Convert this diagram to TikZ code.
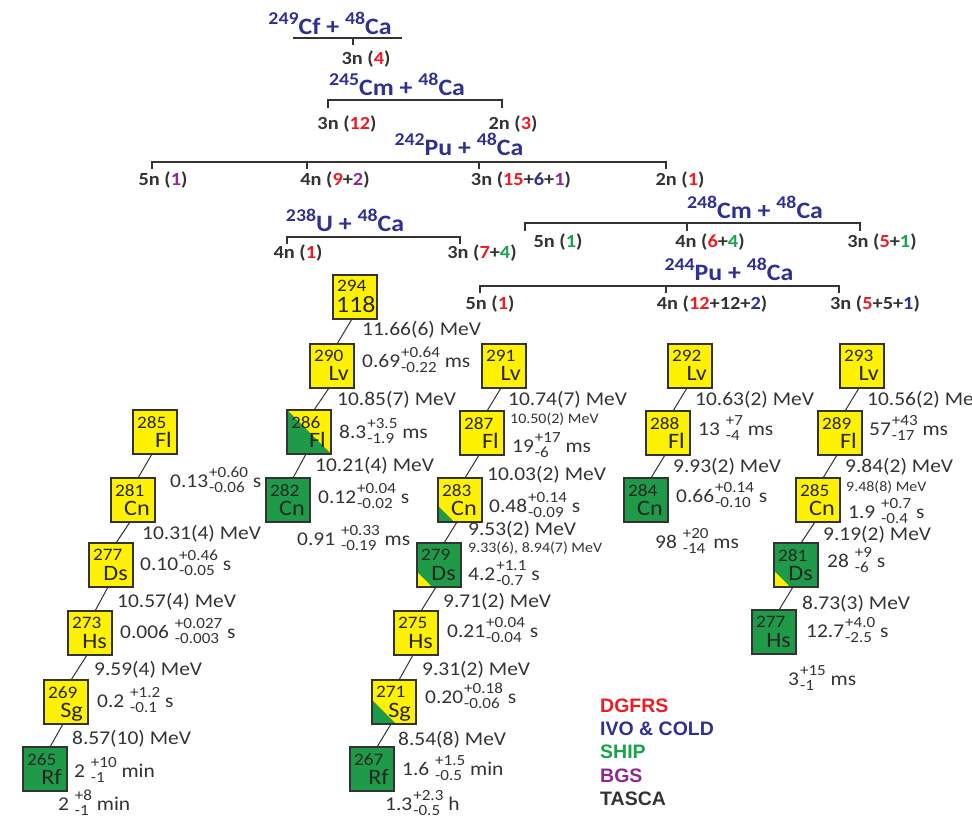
\documentclass[tikz,border=0pt]{standalone}
\usepackage{fontspec}
\setmainfont{Carlito}[FakeStretch=1.1]
\newfontfamily\legfont{Liberation Sans}
\usetikzlibrary{calc}
\definecolor{txt}{HTML}{333333}
\definecolor{hdrc}{HTML}{2E3192}
\definecolor{cred}{HTML}{ED1C24}
\definecolor{cblue}{HTML}{2E3192}
\definecolor{cgreen}{HTML}{17A34A}
\definecolor{cpurple}{HTML}{92278F}
\definecolor{byel}{HTML}{FFF200}
\definecolor{bgrn}{HTML}{1F9A48}
\definecolor{lin}{HTML}{333333}
\newcommand\scrf{\fontsize{15.5}{16}\selectfont}
\newdimen\uncw
\newcommand\hl[4]{#1\kern1pt\setbox0=\hbox{\scrf #2}\setbox2=\hbox{\scrf #3}\uncw=\wd0 \ifdim\wd2>\uncw \uncw=\wd2 \fi\hbox to\uncw{\rlap{\raise9.5pt\box0}\lower5pt\box2\hfil}\ #4}
\newcommand\sups[1]{\raisebox{0.45em}{\fontsize{18}{18}\selectfont #1}}
\newcommand\cR[1]{\textcolor{cred}{#1}}
\newcommand\cB[1]{\textcolor{cblue}{#1}}
\newcommand\cG[1]{\textcolor{cgreen}{#1}}
\newcommand\cP[1]{\textcolor{cpurple}{#1}}
\tikzset{
  box/.style={draw=lin, line width=1.3pt, minimum size=44pt, inner sep=0pt, outer sep=0pt, fill=byel},
  boxline/.style={draw=lin, line width=1.3pt},
  mass/.style={font=\fontsize{17.5}{19}\selectfont, text=black!85, anchor=north west, inner sep=0pt},
  elem/.style={font=\fontsize{22}{24}\selectfont, text=black!85, anchor=base east, inner sep=0pt},
  elemL/.style={font=\fontsize{23.5}{26}\selectfont, text=black!85, anchor=base west, inner sep=0pt},
  conn/.style={draw=lin, line width=1pt},
  en/.style={font=\fontsize{19.5}{22}\selectfont, text=txt, anchor=base west, inner sep=0pt},
  ens/.style={font=\fontsize{14.5}{16}\selectfont, text=txt, anchor=base west, inner sep=0pt},
  hdr/.style={font=\fontsize{23.5}{26}\selectfont\bfseries, text=hdrc, anchor=base, inner sep=0pt},
  rx/.style={font=\fontsize{18.5}{20}\selectfont\bfseries, text=txt, anchor=base, inner sep=0pt},
  bar/.style={draw=lin, line width=1.4pt},
  leg/.style={font=\fontsize{19.5}{22}\selectfont\legfont\bfseries, anchor=base west, inner sep=0pt}
}
\newcommand\nucl[6][byel]{%
  \node[box, fill=#1] (#2) at (#3) {};
  #6
  \node[mass] (#2m) at ([xshift=4pt,yshift=-6pt]#2.north west) {#4};
  \node[elem] (#2e) at ([xshift=-5pt,yshift=7pt]#2.south east) {#5};
}
\begin{document}
\begin{tikzpicture}[x=1pt,y=-1pt]
\useasboundingbox (0,0) rectangle (972,818);
\clip (0,0) rectangle (972,818);

% ---------- reactions ----------
\node[hdr] (h1) at (330,35) {\sups{249}Cf + \sups{48}Ca};
\coordinate (b1l) at (293,38); \coordinate (b1r) at (402,38);
\coordinate (b1t) at (353,38); \coordinate (b1td) at (353,45);
\draw[bar] (b1l) -- (b1r); \draw[bar] (b1t) -- (b1td);
\node[rx] (r11) at (366,65) {3n (\cR{4})};

\node[hdr] (h2) at (397,96) {\sups{245}Cm + \sups{48}Ca};
\coordinate (b2l) at (328,100); \coordinate (b2r) at (502,100);
\coordinate (b2ld) at (328,108); \coordinate (b2rd) at (502,108);
\draw[bar] (b2ld) -- (b2l) -- (b2r) -- (b2rd);
\node[rx] (r21) at (347,130) {3n (\cR{12})};
\node[rx] (r22) at (513,130) {2n (\cR{3})};

\node[hdr] (h3) at (459,156) {\sups{242}Pu + \sups{48}Ca};
\coordinate (b3l) at (152,162); \coordinate (b3r) at (666,162);
\coordinate (b3ld) at (152,169); \coordinate (b3rd) at (666,169);
\coordinate (b3a) at (307,162); \coordinate (b3ad) at (307,169);
\coordinate (b3b) at (479,162); \coordinate (b3bd) at (479,169);
\draw[bar] (b3ld) -- (b3l) -- (b3r) -- (b3rd);
\draw[bar] (b3a) -- (b3ad); \draw[bar] (b3b) -- (b3bd);
\node[rx] (r31) at (163,186) {5n (\cP{1})};
\node[rx] (r32) at (335,186) {4n (\cR{9}+\cP{2})};
\node[rx] (r33) at (521,186) {3n (\cR{15}+\cB{6}+\cP{1})};
\node[rx] (r34) at (680,186) {2n (\cR{1})};

\node[hdr] (h4) at (345,232) {\sups{238}U + \sups{48}Ca};
\coordinate (b4l) at (287,237); \coordinate (b4r) at (460,237);
\coordinate (b4ld) at (287,244); \coordinate (b4rd) at (460,244);
\draw[bar] (b4ld) -- (b4l) -- (b4r) -- (b4rd);
\node[rx] (r41) at (298,259) {4n (\cR{1})};
\node[rx] (r42) at (482,259) {3n (\cR{7}+\cG{4})};

\node[hdr] (h5) at (755,219) {\sups{248}Cm + \sups{48}Ca};
\coordinate (b5l) at (525,223); \coordinate (b5r) at (860,223);
\coordinate (b5ld) at (525,231); \coordinate (b5rd) at (860,231);
\coordinate (b5m) at (687,223); \coordinate (b5md) at (687,231);
\draw[bar] (b5ld) -- (b5l) -- (b5r) -- (b5rd);
\draw[bar] (b5m) -- (b5md);
\node[rx] (r51) at (558,248) {5n (\cG{1})};
\node[rx] (r52) at (710,248) {4n (\cR{6}+\cG{4})};
\node[rx] (r53) at (882,248) {3n (\cR{5}+\cG{1})};

\node[hdr] (h6) at (729,281) {\sups{244}Pu + \sups{48}Ca};
\coordinate (b6l) at (480,286); \coordinate (b6r) at (839,286);
\coordinate (b6ld) at (480,293); \coordinate (b6rd) at (839,293);
\coordinate (b6m) at (666,286); \coordinate (b6md) at (666,293);
\draw[bar] (b6ld) -- (b6l) -- (b6r) -- (b6rd);
\draw[bar] (b6m) -- (b6md);
\node[rx] (r61) at (490,310) {5n (\cR{1})};
\node[rx] (r62) at (712,310) {4n (\cR{12}+12+\cB{2})};
\node[rx] (r63) at (875,310) {3n (\cR{5}+5+\cB{1})};

% ---------- chain A ----------
\nucl{A1}{155,432}{285}{Fl}{}
\nucl{A2}{133,500}{281}{Cn}{}
\nucl{A3}{111,565}{277}{Ds}{}
\nucl{A4}{90,633}{273}{Hs}{}
\nucl{A5}{66,702}{269}{Sg}{}
\nucl[bgrn]{A6}{45,769}{265}{Rf}{}
\foreach \a/\b in {A1/A2,A2/A3,A3/A4,A4/A5,A5/A6}
  \draw[conn] ([xshift=-3pt]\a.south) -- ([xshift=5pt]\b.north);

\node[en] (a0) at (170,487) {\hl{0.13}{+0.60}{-0.06}{s}};
\node[en] (a1) at (142,539) {10.31(4) MeV};
\node[en] (a2) at (140,570) {\hl{0.10}{+0.46}{-0.05}{s}};
\node[en] (a3) at (117,607) {10.57(4) MeV};
\node[en] (a4) at (120,638) {\hl{0.006\ }{+0.027}{-0.003}{s}};
\node[en] (a5) at (94,675) {9.59(4) MeV};
\node[en] (a6) at (97,707) {\hl{0.2\ }{+1.2}{-0.1}{s}};
\node[en] (a7) at (72,744) {8.57(10) MeV};
\node[en] (a8) at (74,777) {\hl{2\ }{+10}{-1}{min}};
\node[en] (a9) at (58,810) {\hl{2\ }{+8}{-1}{min}};

% ---------- chain B ----------
\node[box] (B0) at (355,297) {};
\node[mass] (B0m) at ([xshift=4pt,yshift=-5pt]B0.north west) {294};
\node[elemL] (B0e) at ([xshift=3pt,yshift=6pt]B0.south west) {118};
\nucl{B1}{332,366}{290}{Lv}{}
\nucl{B2}{309,432}{286}{Fl}{\fill[bgrn] (B2.north west) -- (B2.south east) -- (B2.south west) -- cycle; \draw[boxline] (B2.north west) rectangle (B2.south east);}
\nucl[bgrn]{B3}{288,500}{282}{Cn}{}
\foreach \a/\b in {B0/B1,B1/B2,B2/B3}
  \draw[conn] ([xshift=-3pt]\a.south) -- ([xshift=5pt]\b.north);

\node[en] (b1) at (362,335) {11.66(6) MeV};
\node[en] (b2) at (362,367) {\hl{0.69}{+0.64}{-0.22}{ms}};
\node[en] (b3) at (337,405) {10.85(7) MeV};
\node[en] (b4) at (339,438) {\hl{8.3}{+3.5}{-1.9}{ms}};
\node[en] (b5) at (315,471) {10.21(4) MeV};
\node[en] (b6) at (318,503) {\hl{0.12}{+0.04}{-0.02}{s}};
\node[en] (b7) at (297,545) {\hl{0.91\ }{+0.33}{-0.19}{ms}};

% ---------- chain C ----------
\nucl{C1}{504,366}{291}{Lv}{}
\nucl{C2}{482,433}{287}{Fl}{}
\nucl{C3}{460,500}{283}{Cn}{\fill[bgrn] (C3.south west) -- ([yshift=16pt]C3.south west) -- ([xshift=16pt]C3.south west) -- cycle; \draw[boxline] (C3.north west) rectangle (C3.south east);}
\nucl[bgrn]{C4}{439,565}{279}{Ds}{\fill[byel] (C4.south west) -- ([yshift=15pt]C4.south west) -- ([xshift=15pt]C4.south west) -- cycle; \draw[boxline] (C4.north west) rectangle (C4.south east);}
\nucl{C5}{416,633}{275}{Hs}{}
\nucl{C6}{394,702}{271}{Sg}{\fill[bgrn] (C6.south west) -- ([yshift=24pt]C6.south west) -- ([xshift=24pt]C6.south west) -- cycle; \draw[boxline] (C6.north west) rectangle (C6.south east);}
\nucl[bgrn]{C7}{372,769}{267}{Rf}{}
\foreach \a/\b in {C1/C2,C2/C3,C3/C4,C4/C5,C5/C6,C6/C7}
  \draw[conn] ([xshift=-3pt]\a.south) -- ([xshift=5pt]\b.north);

\node[en] (c1) at (508,405) {10.74(7) MeV};
\node[ens] (c2) at (510,423) {10.50(2) MeV};
\node[en] (c3) at (512,452) {\hl{19}{+17}{-6}{ms}};
\node[en] (c4) at (487,480) {10.03(2) MeV};
\node[en] (c5) at (489,512) {\hl{0.48}{+0.14}{-0.09}{s}};
\node[en] (c6) at (468,535) {9.53(2) MeV};
\node[ens] (c7) at (468,552) {9.33(6), 8.94(7) MeV};
\node[en] (c8) at (468,580) {\hl{4.2}{+1.1}{-0.7}{s}};
\node[en] (c9) at (443,607) {9.71(2) MeV};
\node[en] (c10) at (447,637) {\hl{0.21}{+0.04}{-0.04}{s}};
\node[en] (c11) at (422,675) {9.31(2) MeV};
\node[en] (c12) at (425,703) {\hl{0.20}{+0.18}{-0.06}{s}};
\node[en] (c13) at (398,745) {8.54(8) MeV};
\node[en] (c14) at (402,775) {\hl{1.6\ }{+1.5}{-0.5}{min}};
\node[en] (c15) at (385,810) {\hl{1.3}{+2.3}{-0.5}{h}};

% ---------- chain D ----------
\nucl{D1}{690,366}{292}{Lv}{}
\nucl{D2}{668,433}{288}{Fl}{}
\nucl[bgrn]{D3}{646,500}{284}{Cn}{}
\foreach \a/\b in {D1/D2,D2/D3}
  \draw[conn] ([xshift=-3pt]\a.south) -- ([xshift=5pt]\b.north);

\node[en] (d1) at (695,405) {10.63(2) MeV};
\node[en] (d2) at (698,435) {\hl{13\ }{+7}{-4}{ms}};
\node[en] (d3) at (673,472) {9.93(2) MeV};
\node[en] (d4) at (676,502) {\hl{0.66}{+0.14}{-0.10}{s}};
\node[en] (d5) at (655,548) {\hl{98\ }{+20}{-14}{ms}};

% ---------- chain E ----------
\nucl{E1}{862,366}{293}{Lv}{}
\nucl{E2}{840,433}{289}{Fl}{}
\nucl{E3}{818,500}{285}{Cn}{}
\nucl[bgrn]{E4}{796,565}{281}{Ds}{\fill[byel] (E4.south west) -- ([yshift=16pt]E4.south west) -- ([xshift=16pt]E4.south west) -- cycle; \draw[boxline] (E4.north west) rectangle (E4.south east);}
\nucl[bgrn]{E5}{774,632}{277}{Hs}{}
\foreach \a/\b in {E1/E2,E2/E3,E3/E4,E4/E5}
  \draw[conn] ([xshift=-3pt]\a.south) -- ([xshift=5pt]\b.north);

\node[en] (e1) at (867,405) {10.56(2) MeV};
\node[en] (e2) at (869,435) {\hl{57}{+43}{-17}{ms}};
\node[en] (e3) at (845,472) {9.84(2) MeV};
\node[ens] (e4) at (846,491) {9.48(8) MeV};
\node[en] (e5) at (848,518) {\hl{1.9\ }{+0.7}{-0.4}{s}};
\node[en] (e6) at (823,540) {9.19(2) MeV};
\node[en] (e7) at (827,567) {\hl{28\ }{+9}{-6}{s}};
\node[en] (e8) at (802,609) {8.73(3) MeV};
\node[en] (e9) at (806,637) {\hl{12.7}{+4.0}{-2.5}{s}};
\node[en] (e10) at (788,685) {\hl{3}{+15}{-1}{ms}};

% ---------- legend ----------
\node[leg, text=cred] (l1) at (600,712) {DGFRS};
\node[leg, text=cblue] (l2) at (600,735) {IVO \& COLD};
\node[leg, text=cgreen] (l3) at (600,758) {SHIP};
\node[leg, text=cpurple] (l4) at (600,782) {BGS};
\node[leg, text=txt] (l5) at (600,805) {TASCA};
\end{tikzpicture}
\end{document}
